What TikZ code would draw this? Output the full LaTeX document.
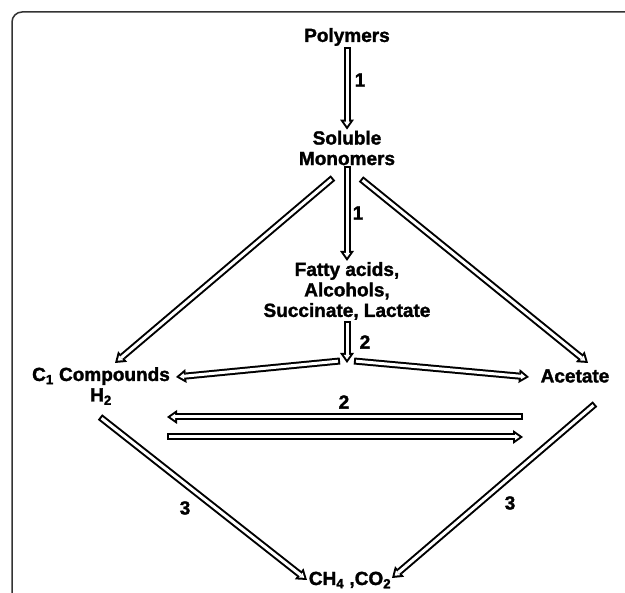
\documentclass[tikz,border=0pt]{standalone}
\usepackage{fontspec}
\setmainfont{Liberation Sans}[BoldFeatures={FakeBold=1.6}]
\usetikzlibrary{arrows.meta}
\tikzset{
  pipe/.style={line width=7pt, -{Triangle[length=10pt, width=14pt, line width=0pt]}},
  pipein/.style={line width=3pt, white, shorten <=2pt, shorten >=3.5pt,
    -{Triangle[length=4.5pt, width=6.3pt, line width=0pt]}},
  lbl/.style={align=center, inner sep=1pt, font=\fontsize{19}{20.5}\selectfont\bfseries}
}

\begin{document}
\begin{tikzpicture}[x=1pt, y=-1pt]
  \useasboundingbox (0,0) rectangle (625,593);
  \clip (0,0) rectangle (625,593);
  \fill [white] (0,0) rectangle (625,593);

  \draw [line width=1.5pt, black!80, rounded corners=10pt] (12,640) |- (660,12);

  \node[lbl] (poly) at (347,37) {Polymers};
  \node[lbl] (mono) at (347,148) {Soluble\\Monomers};
  \node[lbl] (fatty) at (347,291) {Fatty acids,\\Alcohols,\\Succinate, Lactate};
  \node[lbl] (cone) at (101,386) {C\textsubscript{1} Compounds\\H\textsubscript{2}};
  \node[lbl] (acet) at (575,376) {Acetate};
  \node[lbl, anchor=base] (meth) at (350,585) {CH\textsubscript{4} ,CO\textsubscript{2}};

  \node[lbl] (n1a) at (360,80) {1};
  \node[lbl] (n1b) at (358,213) {1};
  \node[lbl] (n2a) at (365,342) {2};
  \node[lbl] (n2b) at (344,402) {2};
  \node[lbl] (n3a) at (185,508) {3};
  \node[lbl] (n3b) at (510,503) {3};

  \coordinate (j) at (347,363);
  \coordinate (jl) at (340,361);
  \coordinate (jr) at (354,361);
  \coordinate (monol) at (333,178);
  \coordinate (monor) at (361,179);
  \coordinate (conea) at (115,363);
  \coordinate (coneb) at (176,377);
  \coordinate (conec) at (100,417);
  \coordinate (aceta) at (588,363);
  \coordinate (acetb) at (529,377);
  \coordinate (acetc) at (595,404);
  \coordinate (topl) at (167,417);
  \coordinate (topr) at (523,417);
  \coordinate (botl) at (167,437);
  \coordinate (botr) at (523,437);
  \coordinate (methl) at (307,580);
  \coordinate (methr) at (392,578);

  \draw[pipe] (poly.south) -- (mono.north);
  \draw[pipein] (poly.south) -- (mono.north);

  \draw[pipe] (mono.south) -- (fatty.north);
  \draw[pipein] (mono.south) -- (fatty.north);

  \draw[pipe] (monol) -- (conea);
  \draw[pipein] (monol) -- (conea);

  \draw[pipe] (monor) -- (aceta);
  \draw[pipein] (monor) -- (aceta);

  \draw[pipe] (fatty.south) -- (j);
  \draw[pipein] (fatty.south) -- (j);

  \draw[pipe] (jl) -- (coneb);
  \draw[pipein] (jl) -- (coneb);

  \draw[pipe] (jr) -- (acetb);
  \draw[pipein] (jr) -- (acetb);

  \draw[pipe] (topr) -- (topl);
  \draw[pipein] (topr) -- (topl);

  \draw[pipe] (botl) -- (botr);
  \draw[pipein] (botl) -- (botr);

  \draw[pipe] (conec) -- (methl);
  \draw[pipein] (conec) -- (methl);

  \draw[pipe] (acetc) -- (methr);
  \draw[pipein] (acetc) -- (methr);
\end{tikzpicture}
\end{document}
